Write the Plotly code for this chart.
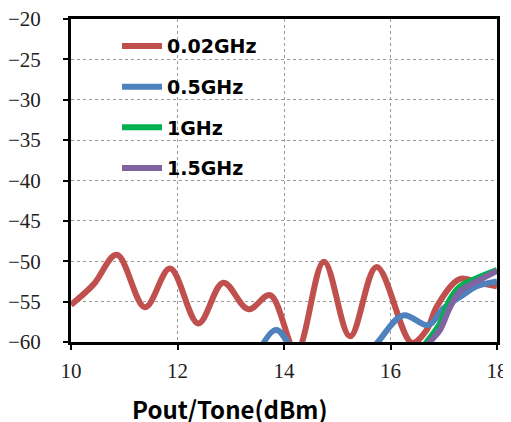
import plotly.graph_objects as go

x_ticks = [10, 12, 14, 16, 18]
y_ticks = [-20, -25, -30, -35, -40, -45, -50, -55, -60]

names = ["0.02GHz", "0.5GHz", "1GHz", "1.5GHz"]
colors = ["#C0504D", "#4F81BD", "#00B050", "#8064A2"]
x_title = "Pout/Tone(dBm)"

red_x = [10, 10.42, 10.86, 11.39, 11.86, 12.39, 12.86, 13.33, 13.74, 14.23, 14.75, 15.24, 15.74, 16.4, 16.68, 16.87, 17.3, 17.68, 18]
red_y = [-55.4, -52.9, -49.2, -55.7, -50.9, -57.7, -52.65, -55.95, -54.2, -61.2, -50.05, -59.3, -50.7, -60.1, -58.5, -55.6, -52.2, -52.7, -53.1]

blue_x = [13.4, 13.85, 14.3, 15.0, 15.74, 16.24, 16.71, 17.0, 17.31, 17.62, 18]
blue_y = [-63.0, -58.5, -62.5, -66.0, -60.2, -56.7, -57.9, -55.8, -54.4, -53.1, -52.5]

green_x = [16.3, 16.68, 16.93, 17.11, 17.31, 17.62, 18]
green_y = [-63.0, -60.0, -57.7, -54.8, -53.1, -52.1, -51.1]

purple_x = [16.4, 16.74, 16.93, 17.11, 17.31, 17.62, 18]
purple_y = [-63.0, -60.0, -58.5, -55.8, -53.7, -52.5, -51.2]

series = [(red_x, red_y), (blue_x, blue_y), (green_x, green_y), (purple_x, purple_y)]

fig = go.Figure()
for i, ((xs, ys), n, c) in enumerate(zip(series, names, colors)):
    fig.add_trace(go.Scatter(
        x=xs, y=ys, name=n, mode="lines",
        line=dict(color=c, width=6, shape="spline", smoothing=1.0),
        legendgroup=str(i),
    ))

serif = "Liberation Serif, Times New Roman, DejaVu Serif, serif"
axis_common = dict(
    showline=True, linecolor="black", linewidth=3, mirror=True,
    showgrid=True, gridcolor="#9a9a9a", gridwidth=1, griddash="dot",
    ticks="outside", ticklen=5, tickwidth=2, tickcolor="black",
    zeroline=False, automargin=False, ticklabeloverflow="allow",
    tickfont=dict(family=serif, size=21, color="#222"),
)

fig.update_xaxes(
    range=[10, 18], tickvals=x_ticks, ticktext=[str(v) for v in x_ticks],
    ticklabelstandoff=3,
    **axis_common,
)
fig.update_yaxes(
    range=[-60, -20], tickvals=y_ticks,
    ticklabelstandoff=18,
    **axis_common,
)

fig.add_annotation(
    text=x_title, xref="paper", yref="paper", x=0.373, y=-0.207,
    xanchor="center", yanchor="middle", showarrow=False, borderpad=0,
    font=dict(family="Noto Sans CJK SC", size=24, color="black", weight="bold"),
)

# page body has an 8px margin, so the figure is sized to end at the window edge
fig.update_layout(
    width=503, height=414,
    margin=dict(l=63, r=14, t=11, b=80),
    plot_bgcolor="white", paper_bgcolor="white",
    showlegend=True,
    legend=dict(
        x=0.108, y=0.975, xanchor="left", yanchor="top",
        bgcolor="rgba(0,0,0,0)",
        font=dict(family="DejaVu Sans", size=19, color="black", weight="bold"),
        tracegroupgap=13,
        itemwidth=40,
    ),
)

fig.write_html("out.html")
